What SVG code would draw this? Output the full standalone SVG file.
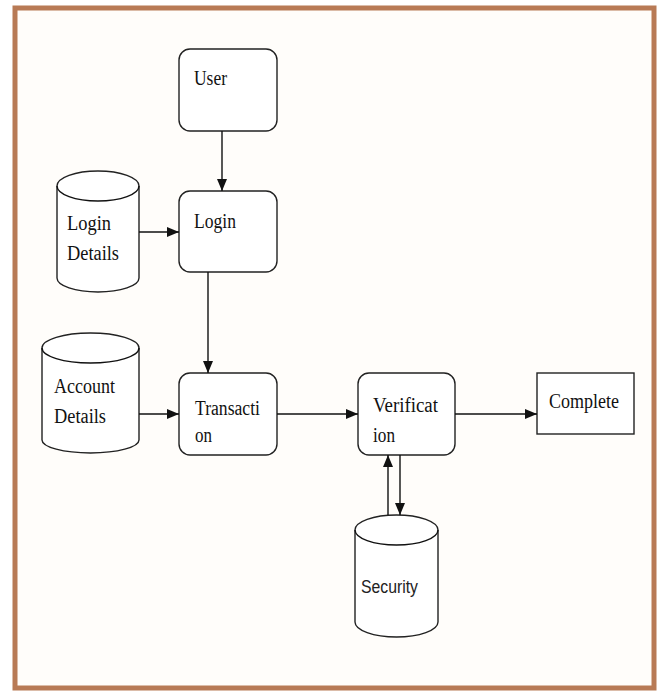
<svg xmlns="http://www.w3.org/2000/svg" width="659" height="693" viewBox="0 0 659 693">
<style>
.b{fill:#ffffff;stroke:#222;stroke-width:1.4}
.t{font-family:"Liberation Serif","Times New Roman",serif;font-size:20px;fill:#111}
.s{font-family:"Liberation Sans",Arial,sans-serif;font-size:18px;fill:#222}
.c{stroke:#111;stroke-width:1.4;fill:none}
</style>
<defs>
<marker id="ah" viewBox="0 0 12 10" refX="12" refY="5" markerWidth="12" markerHeight="10" markerUnits="userSpaceOnUse" orient="auto">
<path d="M0,0 L12,5 L0,10 Z" fill="#111"/>
</marker>
</defs>
<rect x="0" y="0" width="659" height="693" fill="#ffffff"/>
<rect x="15" y="8" width="639" height="680" fill="#fffdfa" stroke="#b87a55" stroke-width="5"/>

<g id="user"><rect class="b" x="179" y="49" width="98" height="82" rx="11"/><text class="t" x="194" y="85" textLength="33" lengthAdjust="spacingAndGlyphs">User</text></g>
<g id="login"><rect class="b" x="179" y="191" width="98" height="81" rx="11"/><text class="t" x="194" y="228" textLength="42" lengthAdjust="spacingAndGlyphs">Login</text></g>
<g id="login-details">
<path class="b" d="M57,186 A41,15 0 0 1 139,186 L139,278 A41,14 0 0 1 57,278 Z"/>
<path class="c" d="M57,186 A41,15 0 0 0 139,186" stroke="#222"/>
<text class="t" x="67" y="230" textLength="44" lengthAdjust="spacingAndGlyphs">Login</text><text class="t" x="67" y="260" textLength="52" lengthAdjust="spacingAndGlyphs">Details</text>
</g>
<g id="account-details">
<path class="b" d="M42,348 A48.5,15 0 0 1 139,348 L139,440 A48.5,13 0 0 1 42,440 Z"/>
<path class="c" d="M42,348 A48.5,15 0 0 0 139,348" stroke="#222"/>
<text class="t" x="54" y="393" textLength="61" lengthAdjust="spacingAndGlyphs">Account</text><text class="t" x="54" y="423" textLength="52" lengthAdjust="spacingAndGlyphs">Details</text>
</g>
<g id="transaction"><rect class="b" x="179" y="373" width="98" height="82" rx="11"/><text class="t" x="195" y="415" textLength="65" lengthAdjust="spacingAndGlyphs">Transacti</text><text class="t" x="195" y="442" textLength="17" lengthAdjust="spacingAndGlyphs">on</text></g>
<g id="verification"><rect class="b" x="358" y="373" width="97" height="82" rx="11"/><text class="t" x="373" y="412" textLength="65" lengthAdjust="spacingAndGlyphs">Verificat</text><text class="t" x="373" y="442" textLength="22" lengthAdjust="spacingAndGlyphs">ion</text></g>
<g id="complete"><rect class="b" x="537" y="373" width="97" height="61"/><text class="t" x="549" y="408" textLength="70" lengthAdjust="spacingAndGlyphs">Complete</text></g>
<g id="security">
<path class="b" d="M355,530 A41.5,15 0 0 1 438,530 L438,622 A41.5,15 0 0 1 355,622 Z"/>
<path class="c" d="M355,530 A41.5,15 0 0 0 438,530" stroke="#222"/>
<text class="s" x="361" y="593" textLength="57" lengthAdjust="spacingAndGlyphs">Security</text>
</g>

<g id="connectors">
<line class="c" x1="222" y1="131" x2="222" y2="191" marker-end="url(#ah)"/>
<line class="c" x1="139" y1="232" x2="179" y2="232" marker-end="url(#ah)"/>
<line class="c" x1="208" y1="272" x2="208" y2="373" marker-end="url(#ah)"/>
<line class="c" x1="139" y1="414" x2="179" y2="414" marker-end="url(#ah)"/>
<line class="c" x1="277" y1="414" x2="358" y2="414" marker-end="url(#ah)"/>
<line class="c" x1="455" y1="414" x2="537" y2="414" marker-end="url(#ah)"/>
<line class="c" x1="388" y1="515" x2="388" y2="455" marker-end="url(#ah)"/>
<line class="c" x1="400" y1="455" x2="400" y2="515" marker-end="url(#ah)"/>
</g>
</svg>
